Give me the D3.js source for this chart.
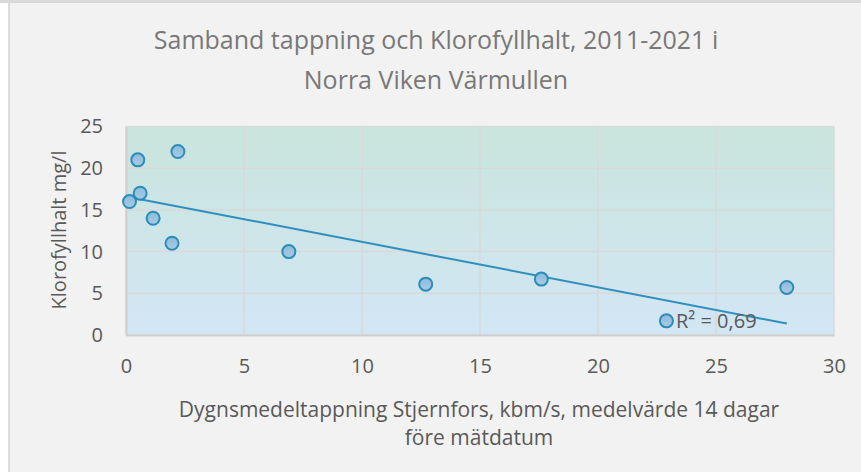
<!DOCTYPE html>
<html>
<head>
<meta charset="utf-8">
<script src="https://cdn.jsdelivr.net/npm/d3@7"></script>
<style>
    body { margin: 0; background: #ffffff; }
    text { font-family: "Open Sans", sans-serif; }
</style>
</head>
<body>
<div id="holder"></div>
<script>
// data
const tapping = [0.15, 0.5, 0.6, 2.2, 1.15, 1.95, 6.9, 12.7, 17.6, 22.9, 28];
const klorofyll = [16, 21, 17, 22, 14, 11, 10, 6.1, 6.7, 1.7, 5.7];
const xTicks = [0, 5, 10, 15, 20, 25, 30];
const yTicks = [0, 5, 10, 15, 20, 25];
const titleLines = ["Samband tappning och Klorofyllhalt, 2011-2021 i", "Norra Viken Värmullen"];
const xLabelLines = ["Dygnsmedeltappning Stjernfors, kbm/s, medelvärde 14 dagar", "före mätdatum"];
const yLabel = "Klorofyllhalt mg/l";

const w = 861;
const h = 472;
const plot = {left: 126, right: 834, top: 126.5, bottom: 335};

let svg = d3.select("#holder")
    .append("svg")
    .attr("width", w)
    .attr("height", h);

// frame
svg.append("rect").attr("x", 0).attr("y", 0).attr("width", w).attr("height", 3).attr("fill", "#d9d9d9");
svg.append("rect").attr("x", 8).attr("y", 3).attr("width", 2).attr("height", h - 3).attr("fill", "#dcdcdc");
svg.append("rect").attr("x", 10).attr("y", 3).attr("width", w - 10).attr("height", h - 3).attr("fill", "#f2f2f2");

let defs = svg.append("defs");
let grad = defs.append("linearGradient").attr("id", "bg").attr("x1", 0).attr("y1", 0).attr("x2", 0).attr("y2", 1);
grad.append("stop").attr("offset", "0%").attr("stop-color", "#c9e5dc");
grad.append("stop").attr("offset", "100%").attr("stop-color", "#d2e6f5");
let mgrad = defs.append("linearGradient").attr("id", "marker").attr("x1", 0).attr("y1", 0).attr("x2", 0).attr("y2", 1);
mgrad.append("stop").attr("offset", "0%").attr("stop-color", "#8dbbdb");
mgrad.append("stop").attr("offset", "100%").attr("stop-color", "#a9cae3");

let xScale = d3.scaleLinear().domain([0, 30]).range([plot.left, plot.right]);
let yScale = d3.scaleLinear().domain([0, 25]).range([plot.bottom, plot.top]);

svg.append("rect")
    .attr("x", plot.left)
    .attr("y", plot.top)
    .attr("width", plot.right - plot.left)
    .attr("height", plot.bottom - plot.top)
    .attr("fill", "url(#bg)");

//grid
svg.append("g")
    .selectAll("line")
    .data(yTicks)
    .enter()
    .append("line")
    .attr("x1", plot.left).attr("x2", plot.right)
    .attr("y1", d => yScale(d)).attr("y2", d => yScale(d))
    .attr("stroke", "#d9d9d9")
    .attr("stroke-width", 1.5);
svg.append("g")
    .selectAll("line")
    .data(xTicks)
    .enter()
    .append("line")
    .attr("x1", d => xScale(d)).attr("x2", d => xScale(d))
    .attr("y1", plot.top).attr("y2", plot.bottom)
    .attr("stroke", "#d9d9d9")
    .attr("stroke-width", 1.5);

// axes
const xAxis = d3.axisBottom(xScale).tickValues(xTicks).tickSize(0).tickPadding(24);
let gx = svg.append("g")
    .attr("transform", "translate(0," + plot.bottom + ")")
    .call(xAxis);
gx.select(".domain").attr("stroke", "#cfcfcf").attr("stroke-width", 2);

const yAxis = d3.axisLeft(yScale).tickValues(yTicks).tickSize(0).tickPadding(23);
let gy = svg.append("g")
    .attr("transform", "translate(" + plot.left + ",0)")
    .call(yAxis);
gy.select(".domain").attr("stroke", "#cfcfcf").attr("stroke-width", 2);

svg.selectAll(".tick text")
    .attr("fill", "#595959")
    .style("font-size", "20px")
    .style("font-family", "Open Sans");

// trendline (least squares)
const mx = d3.mean(tapping);
const my = d3.mean(klorofyll);
let sxy = 0, sxx = 0, syy = 0;
tapping.forEach((x, i) => {
    sxy += (x - mx) * (klorofyll[i] - my);
    sxx += (x - mx) * (x - mx);
    syy += (klorofyll[i] - my) * (klorofyll[i] - my);
});
const slope = sxy / sxx;
const intercept = my - slope * mx;
const r2 = sxy * sxy / (sxx * syy);
const trend = [d3.min(tapping), d3.max(tapping)].map(x => ({x: x, y: intercept + slope * x}));

let valueLine = d3.line()
    .x(d => xScale(d.x))
    .y(d => yScale(d.y));

svg.append("path")
    .attr("d", valueLine(trend))
    .attr("fill", "none")
    .attr("stroke", "#2e8fbd")
    .attr("stroke-width", 2);

// points
svg.selectAll("circle")
    .data(tapping)
    .enter()
    .append("circle")
    .attr("cx", d => xScale(d))
    .attr("cy", (d, i) => yScale(klorofyll[i]))
    .attr("r", 6.5)
    .attr("fill", "url(#marker)")
    .attr("stroke", "#2b8cba")
    .attr("stroke-width", 2);

svg.append("text")
    .attr("x", 676)
    .attr("y", 328)
    .attr("fill", "#595959")
    .style("font-size", "20px")
    .text("R² = " + r2.toFixed(2).replace(".", ","));

// title
svg.append("text")
    .attr("text-anchor", "middle")
    .attr("fill", "#787878")
    .style("font-size", "25px")
    .selectAll("tspan")
    .data(titleLines)
    .enter()
    .append("tspan")
    .attr("x", 436)
    .attr("y", (d, i) => 49 + i * 40)
    .text(d => d);

// x label
svg.append("text")
    .attr("text-anchor", "middle")
    .attr("fill", "#595959")
    .style("font-size", "21px")
    .selectAll("tspan")
    .data(xLabelLines)
    .enter()
    .append("tspan")
    .attr("x", 479)
    .attr("y", (d, i) => 417 + i * 28)
    .text(d => d);

// y label
svg.append("text")
    .attr("text-anchor", "middle")
    .attr("fill", "#595959")
    .style("font-size", "20px")
    .attr("transform", "translate(66,230) rotate(-90)")
    .text(yLabel);
</script>
</body>
</html>
